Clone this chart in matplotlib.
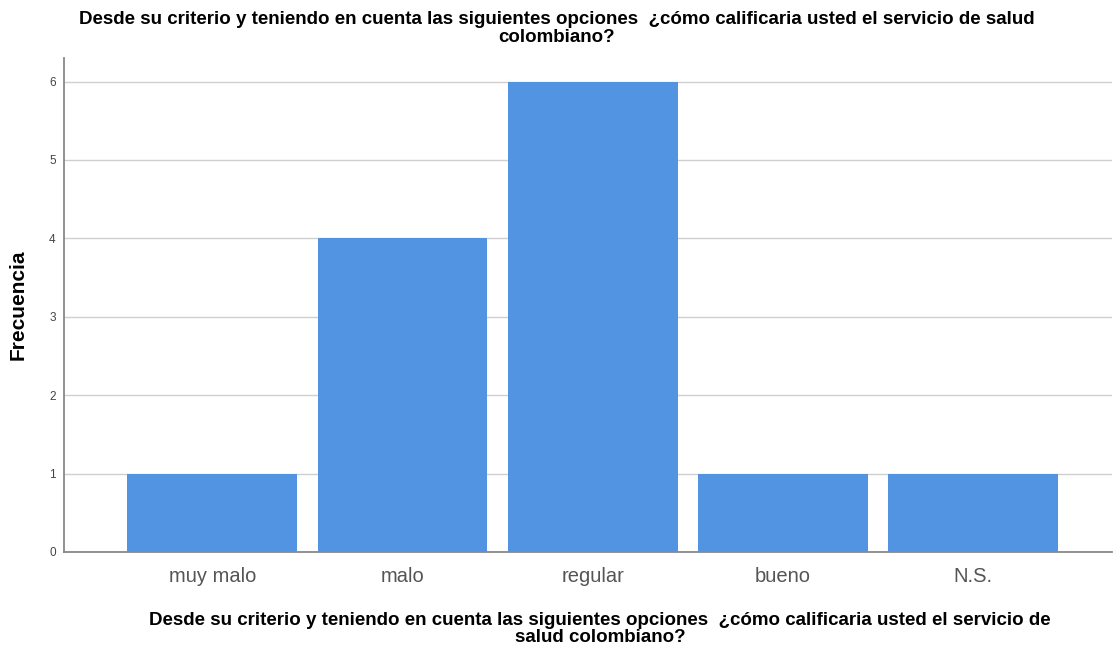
import matplotlib
matplotlib.use('Agg')
import matplotlib.pyplot as plt

# datos del grafico
categorias = ['muy malo', 'malo', 'regular', 'bueno', 'N.S.']
frecuencias = [1, 4, 6, 1, 1]
ticks_y = [0, 1, 2, 3, 4, 5, 6]

titulo = ['Desde su criterio y teniendo en cuenta las siguientes opciones  '
          '¿cómo calificaria usted el servicio de salud', 'colombiano?']
etiqueta_x = ['Desde su criterio y teniendo en cuenta las siguientes opciones  '
              '¿cómo calificaria usted el servicio de', 'salud colombiano?']

plt.rcParams['font.family'] = ['Liberation Sans', 'DejaVu Sans']

W, H = 1114, 648
fig = plt.figure(figsize=(W/100, H/100), dpi=100)
ax = fig.add_axes([64/W, 1 - 552/H, (1112-64)/W, (552-58)/H])

x = range(len(categorias))
ax.bar(x, frecuencias, width=0.893, color='#5294e2', zorder=3)

ax.set_xlim(-0.78, 4.73)
ax.set_ylim(0, 6.3)
ax.set_yticks(ticks_y)
ax.set_xticks(list(x))
ax.set_xticklabels(categorias, fontsize=14.5, color='#555555')
ax.tick_params(axis='y', labelsize=8.5, colors='#444444', length=0, pad=6)
ax.tick_params(axis='x', length=0, pad=11)

ax.grid(axis='y', color='#cfcfcf', linewidth=1, zorder=0)
for s in ['top', 'right']:
    ax.spines[s].set_visible(False)
ax.spines['left'].set_color('#888888')
ax.spines['bottom'].set_color('#888888')
ax.spines['left'].set_linewidth(1.3)
ax.spines['bottom'].set_linewidth(1.3)

# titulo y etiqueta del eje x, linea por linea (interlineado muy apretado)
for linea, yb in zip(titulo, [24, 42]):
    fig.text(557/W, 1 - yb/H, linea, ha='center', va='baseline',
             fontsize=13.5, fontweight='bold')
for linea, yb in zip(etiqueta_x, [625, 642]):
    fig.text(600/W, 1 - yb/H, linea, ha='center', va='baseline',
             fontsize=13.5, fontweight='bold')

fig.text(18/W, 1 - 305/H, 'Frecuencia', rotation=90, ha='center',
         va='center', fontsize=15, fontweight='bold')

fig.savefig('out.png', dpi=100)
